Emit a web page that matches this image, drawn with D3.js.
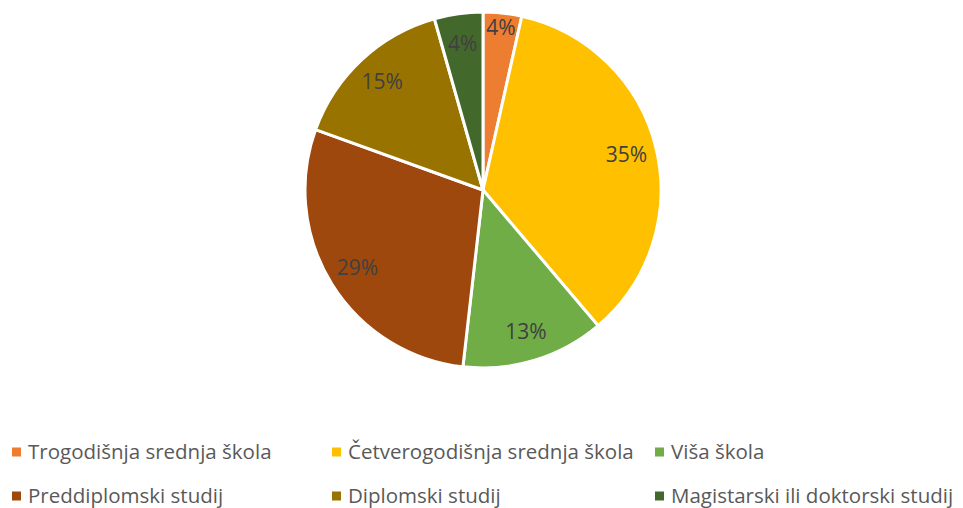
<!DOCTYPE html>
<html>
<head>
<meta charset="utf-8">
<script src="https://cdn.jsdelivr.net/npm/d3@7"></script>
<style>
  body { margin: 0; background: #fff; }
  text { font-family: "Open Sans", "Noto Sans", sans-serif; }
</style>
</head>
<body>
<div id="chart"></div>
<script>
// data (percent shares)
const categories = ["Trogodišnja srednja škola", "Četverogodišnja srednja škola", "Viša škola",
                    "Preddiplomski studij", "Diplomski studij", "Magistarski ili doktorski studij"];
const values = [3.5, 35.3, 13.0, 28.7, 15.1, 4.4];
const colors = ["#ED7D31", "#FFC000", "#70AD47", "#9E480E", "#997300", "#43682B"];

const width = 963, height = 508;
const cx = 483, cy = 190, radius = 178;

const svg = d3.select("#chart").append("svg")
    .attr("width", width)
    .attr("height", height);

const data = categories.map((c, i) => ({key: c, value: values[i]}));
const total = d3.sum(values);

const pie = d3.pie().value(d => d.value).sort(null);
const arc = d3.arc().innerRadius(0).outerRadius(radius);
const labelArc = d3.arc().innerRadius(radius * 0.83).outerRadius(radius * 0.83);
const labelArcOuter = d3.arc().innerRadius(radius * 0.92).outerRadius(radius * 0.92);

const g = svg.append("g").attr("transform", `translate(${cx},${cy})`);

g.selectAll(".slice")
    .data(pie(data))
    .enter().append("path")
    .attr("class", "slice")
    .attr("d", arc)
    .attr("fill", (d, i) => colors[i])
    .attr("stroke", "#fff")
    .attr("stroke-width", 3)
    .attr("stroke-linejoin", "round");

g.selectAll(".label")
    .data(pie(data))
    .enter().append("text")
    .attr("class", "label")
    .attr("transform", d => {
        // very thin slices push their label further out (Excel best fit)
        let a = d.data.value < 4 ? labelArcOuter : labelArc;
        return "translate(" + a.centroid(d) + ")";
    })
    .attr("text-anchor", "middle")
    .attr("dy", "0.35em")
    .attr("fill", "#404040")
    .style("font-size", "21px")
    .text(d => Math.round(d.data.value / total * 100) + "%");

// legend, 3 columns x 2 rows
const colX = [12, 332, 655];
const rowY = [452, 496];

const legend = svg.selectAll(".legend")
    .data(data)
    .enter().append("g")
    .attr("class", "legend")
    .attr("transform", (d, i) => `translate(${colX[i % 3]},${rowY[Math.floor(i / 3)]})`);

legend.append("rect")
    .attr("x", 0)
    .attr("y", -4.5)
    .attr("width", 9)
    .attr("height", 9)
    .attr("fill", (d, i) => colors[i]);

legend.append("text")
    .attr("x", 16)
    .attr("dy", "0.35em")
    .attr("fill", "#595959")
    .style("font-size", "20.5px")
    .text(d => d.key);
</script>
</body>
</html>
